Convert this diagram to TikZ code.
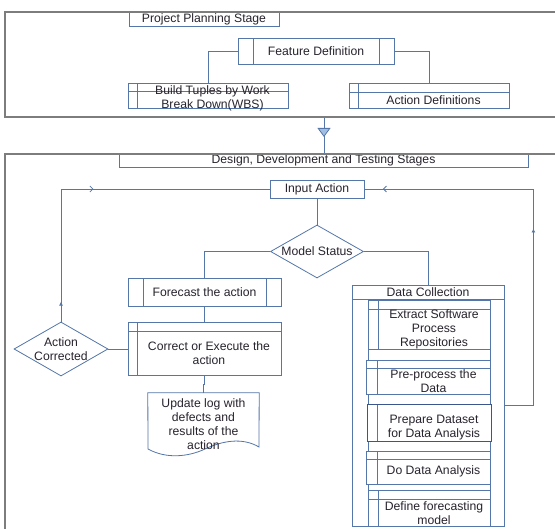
\documentclass[tikz,border=0pt]{standalone}
\usepackage{fontspec}
\setmainfont{Liberation Sans}
\usetikzlibrary{shapes.geometric,arrows.meta,decorations.markings}
\definecolor{linec}{RGB}{84,118,168}
\definecolor{darkc}{RGB}{58,86,140}
\definecolor{framec}{RGB}{125,125,125}
\definecolor{tric}{RGB}{160,190,225}
\definecolor{textc}{RGB}{40,35,45}
\tikzset{
	txt/.style={text=textc, font=\fontsize{12.2}{14}\selectfont, align=center, inner sep=0pt},
	box/.style={draw=linec, fill=white, line width=0.8pt, txt},
	predef/.style={box, path picture={
		\draw [linec, line width=0.8pt] ([xshift=15pt]path picture bounding box.south west) -- ([xshift=15pt]path picture bounding box.north west)
			([xshift=-15pt]path picture bounding box.south east) -- ([xshift=-15pt]path picture bounding box.north east);}},
	lside/.style={box, path picture={
		\draw [linec, line width=0.8pt] ([xshift=#1]path picture bounding box.south west) -- ([xshift=#1]path picture bounding box.north west);}},
	store/.style 2 args={box, path picture={
		\draw [linec, line width=0.8pt] ([xshift=#1]path picture bounding box.south west) -- ([xshift=#1]path picture bounding box.north west)
			([yshift=-#2]path picture bounding box.north west) -- ([yshift=-#2]path picture bounding box.north east);}},
	decide/.style={box, diamond, aspect=1.75},
	conn/.style={draw=linec, line width=0.8pt},
	stageframe/.style={draw=framec, line width=1.6pt},
}
\begin{document}
\begin{tikzpicture}[x=1pt, y=-1pt]
	\useasboundingbox (0,0) rectangle (555,529);
	\node [box, minimum width=150pt, minimum height=14pt] (pps) at (204,19) {Project Planning Stage};
	\node [predef, minimum width=156pt, minimum height=26pt] (feat) at (316,51) {Feature Definition};
	\node [store={9pt}{8pt}, minimum width=160pt, minimum height=25pt] (wbs) at (208,95.5) {};
	\node [txt] (wbs-t) at (212.5,98.5) {Build Tuples by Work\\Break Down(WBS)};
	\node [store={9pt}{9pt}, minimum width=160pt, minimum height=25pt] (act) at (429,95.5) {};
	\node [txt] (act-t) at (433.5,100) {Action Definitions};
	\draw [conn] (feat.west) -| (wbs.north);
	\draw [conn] (feat.east) -| (act.north);

	\coordinate (plan) at (324,117);
	\node [box, minimum width=409pt, minimum height=13pt] (dds) at (323.5,160.5) {Design, Development and Testing Stages};
	\draw [conn, postaction={decorate}, decoration={markings, mark=at position 20pt with {\arrow{Triangle[length=9pt,width=13pt,fill=tric]}}}] (plan) -- (plan |- dds.north);

	\node [box, minimum width=94pt, minimum height=18pt] (inp) at (317,189) {Input Action};
	\node [decide, minimum width=93pt, minimum height=53pt] (ms) at (317,251.5) {Model Status};
	\node [predef, minimum width=153pt, minimum height=28pt] (fc) at (204.5,292) {Forecast the action};
	\node [store={9pt}{9pt}, minimum width=153pt, minimum height=53pt] (cor) at (204.5,348.5) {};
	\node [txt] (cor-t) at (209,353) {Correct or Execute the\\action};
	\node [decide, minimum width=94pt, minimum height=54pt] (ac) at (61,349) {Action\\Corrected};
	\node [txt, minimum width=111pt, minimum height=62pt] (log) at (203.5,424) {};
	\draw [conn, fill=white] (log.north west) -- (148,449) .. controls (166,459) and (188,457) .. (205,449)
		.. controls (222,441) and (242,437) .. (259,447) -- (log.north east) -- cycle;
	\node [txt] (log-t) at (203.5,424) {Update log with\\defects and\\results of the\\action};

	\node [box, minimum width=152pt, minimum height=241pt] (dc) at (428,405.5) {};
	\node [box, minimum width=122pt, minimum height=227pt] (lane) at (429,412.5) {};
	\node [box, minimum width=152pt, minimum height=14pt] (dch) at (428,292) {Data Collection};
	\node [store={10pt}{9pt}, minimum width=122pt, minimum height=49pt] (ext) at (429,324.5) {};
	\node [txt] (ext-t) at (434,329) {Extract Software\\Process\\Repositories};
	\node [store={11pt}{8pt}, minimum width=124pt, minimum height=34pt] (pre) at (428,377) {};
	\node [txt] (pre-t) at (433.5,381) {Pre-process the\\Data};
	\node [lside=10pt, draw=darkc, line width=1pt, minimum width=124pt, minimum height=37pt] (prep) at (429,423.5) {};
	\node [txt] (prep-t) at (434,428) {Prepare Dataset\\for Data Analysis};
	\node [store={11pt}{8pt}, minimum width=124pt, minimum height=33pt] (dda) at (428,467.5) {};
	\node [txt] (dda-t) at (433.5,471) {Do Data Analysis};
	\node [store={10pt}{9pt}, minimum width=122pt, minimum height=36pt] (dfm) at (429,508) {};
	\node [txt] (dfm-t) at (434,513) {Define forecasting\\model};

	\draw [conn] (inp) -- (ms);
	\draw [conn] (ms.west) -| (fc.north);
	\draw [conn] (ms.east) -| (dch.north);
	\draw [conn] (fc) -- (cor);
	\draw [conn] (ac.east) -- (ac.east -| cor.west);
	\draw [conn] (cor.south) -- ++(0,9) -| (log.north);
	\draw [conn, postaction={decorate}, decoration={markings,
		mark=at position 20pt with {\arrow{Latex[length=4pt,width=4pt]}},
		mark=at position 165pt with {\arrow{Straight Barb[length=3pt,width=6pt]}}}] (ac.north) |- (inp.west);
	\draw [conn, postaction={decorate}, decoration={markings,
		mark=at position 206pt with {\arrow{Latex[length=4pt,width=4pt]}},
		mark=at position 396pt with {\arrow{Straight Barb[length=3pt,width=6pt]}}}] (dc.east) -- ++(29,0) |- (inp.east);

	\draw [stageframe] (555,12) -- (5,12) -- (5,117) -- (555,117);
	\draw [stageframe] (555,154) -- (5,154) -- (5,529);
\end{tikzpicture}
\end{document}
